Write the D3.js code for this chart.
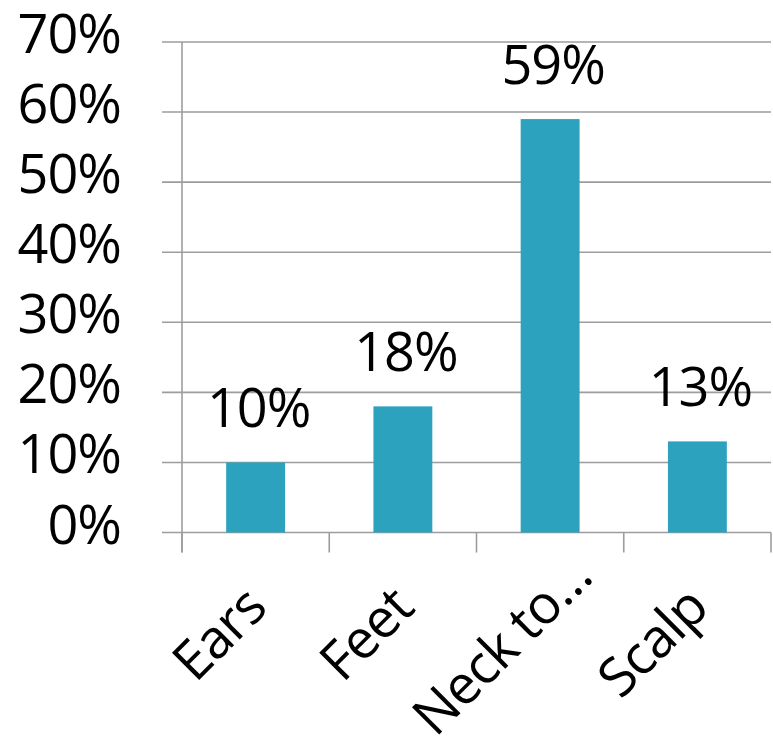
<!DOCTYPE html>
<html>
<head>
<meta charset="utf-8">
<script src="https://cdn.jsdelivr.net/npm/d3@7"></script>
<style>
  html, body { margin: 0; padding: 0; background: #fff; }
  svg { display: block; }
  text { font-family: "Open Sans", "Noto Sans", sans-serif; fill: #000; }
</style>
</head>
<body>
<svg id="chart" width="773" height="750"></svg>
<script>
const categories = ["Ears", "Feet", "Neck to…", "Scalp"];
const values = [10, 18, 59, 13];
const dataLabels = ["10%", "18%", "59%", "13%"];
const yTicks = [0, 10, 20, 30, 40, 50, 60, 70];
const yTickLabels = ["0%", "10%", "20%", "30%", "40%", "50%", "60%", "70%"];

(function () {
const svg = d3.select("#chart");
const mLeft = 182, mRight = 771, mTop = 42, mBottom = 532.5;
const gridColor = "#9d9d9d";
const barColor = "#2ca2bf";
const fontSize = 54;

const x = d3.scaleBand().domain(categories).range([mLeft, mRight]).paddingInner(0).paddingOuter(0);
const y = d3.scaleLinear().domain([0, 70]).range([mBottom, mTop]);
const barW = x.bandwidth() * 0.4;

// gridlines (with left tick stubs)
svg.append("g").selectAll("line").data(yTicks).join("line")
  .attr("x1", mLeft - 20).attr("x2", mRight)
  .attr("y1", d => y(d)).attr("y2", d => y(d))
  .attr("stroke", gridColor).attr("stroke-width", 1.6);

// vertical axis
svg.append("line")
  .attr("x1", mLeft).attr("x2", mLeft)
  .attr("y1", y(70)).attr("y2", mBottom + 20)
  .attr("stroke", gridColor).attr("stroke-width", 1.6);

// category ticks
const bounds = categories.map(c => x(c)).concat([x(categories[categories.length - 1]) + x.bandwidth()]);
svg.append("g").selectAll("line").data(bounds).join("line")
  .attr("x1", d => d).attr("x2", d => d)
  .attr("y1", mBottom).attr("y2", mBottom + 20)
  .attr("stroke", gridColor).attr("stroke-width", 1.6);

// bars
svg.append("g").selectAll("rect").data(values).join("rect")
  .attr("x", (d, i) => x(categories[i]) + x.bandwidth() / 2 - barW / 2)
  .attr("width", barW)
  .attr("y", d => y(d))
  .attr("height", d => mBottom - y(d))
  .attr("fill", barColor);

// y tick labels
svg.append("g").selectAll("text").data(yTicks).join("text")
  .attr("x", 121)
  .attr("y", d => y(d) + 11)
  .attr("text-anchor", "end")
  .attr("font-size", fontSize)
  .attr("letter-spacing", -1)
  .text((d, i) => yTickLabels[i]);

// data labels
svg.append("g").selectAll("text").data(values).join("text")
  .attr("x", (d, i) => x(categories[i]) + x.bandwidth() / 2 + 3)
  .attr("y", d => y(d) - 35)
  .attr("text-anchor", "middle")
  .attr("font-size", fontSize)
  .attr("letter-spacing", -1)
  .text((d, i) => dataLabels[i]);

// x labels, rotated (truncated labels overflow past the tick like the original)
svg.append("g").selectAll("text").data(categories).join("text")
  .attr("transform", d => `translate(${x(d) + x.bandwidth() / 2},597) rotate(-45)`)
  .attr("text-anchor", "end")
  .attr("dx", d => d.endsWith("…") ? 44 : 0)
  .attr("dy", "0.35em")
  .attr("font-size", fontSize)
  .attr("letter-spacing", -1)
  .text(d => d);
})();
</script>
</body>
</html>
